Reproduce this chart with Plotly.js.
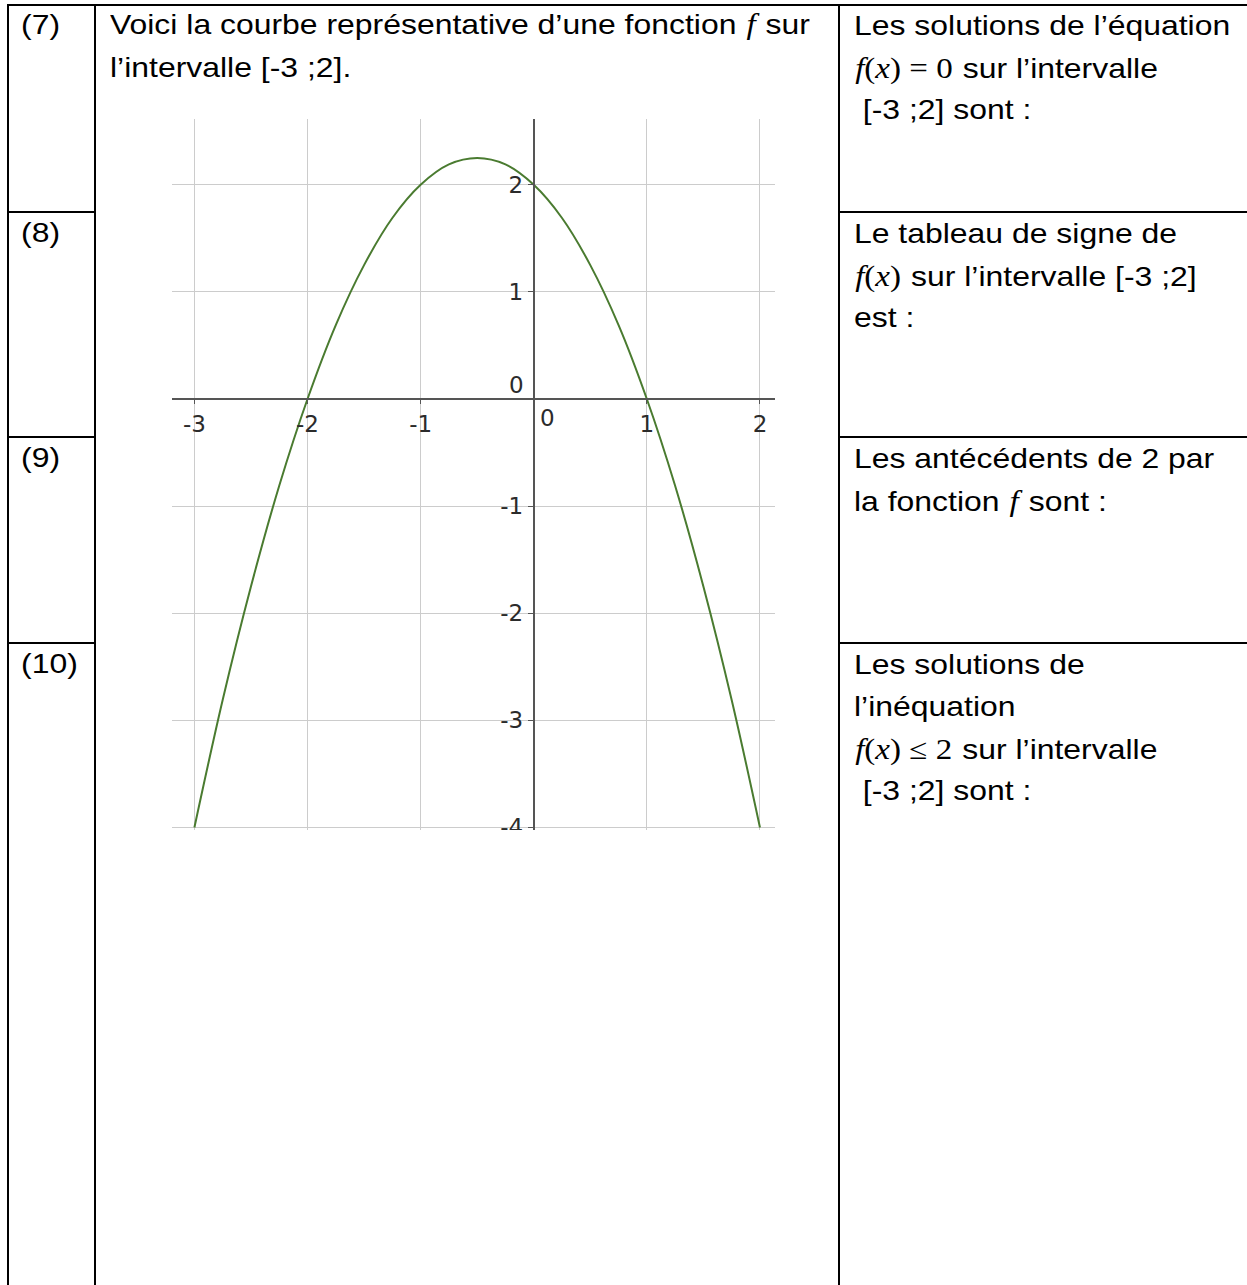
<!DOCTYPE html>
<html>
<head>
<meta charset="utf-8">
<script src="https://cdn.plot.ly/plotly-3.0.1.min.js"></script>
<style>
  body { margin: 0; background: #fff; width: 1247px; height: 1285px; overflow: hidden; position: relative; }
  .ln { position: absolute; background: #000; }
  .txt { position: absolute; font-family: "Liberation Sans", Arial, sans-serif; font-size: 28px;
         line-height: 42px; white-space: nowrap; color: #000; transform: scaleX(1.14); transform-origin: 0 0; }
  .txt div { height: 42px; white-space: pre; }
  .mid div { height: 44px; line-height: 44px; }
  .m { font-family: "Liberation Serif", "Times New Roman", serif; font-size: 29px; padding: 0 1px; }
  .m i { font-style: italic; }
  #clip { position: absolute; left: 150px; top: 100px; width: 650px; height: 730px; overflow: hidden; }
  #chart { width: 650px; height: 760px; }
</style>
</head>
<body>

<!-- table lines -->
<div class="ln" style="left:7px; top:4px; width:1240px; height:2px;"></div>
<div class="ln" style="left:7px; top:4px; width:2px; height:1281px;"></div>
<div class="ln" style="left:94px; top:4px; width:2px; height:1281px;"></div>
<div class="ln" style="left:838px; top:4px; width:2px; height:1281px;"></div>
<div class="ln" style="left:7px; top:211px; width:89px; height:2px;"></div>
<div class="ln" style="left:838px; top:211px; width:409px; height:2px;"></div>
<div class="ln" style="left:7px; top:436px; width:89px; height:2px;"></div>
<div class="ln" style="left:838px; top:436px; width:409px; height:2px;"></div>
<div class="ln" style="left:7px; top:642px; width:89px; height:2px;"></div>
<div class="ln" style="left:838px; top:642px; width:409px; height:2px;"></div>

<!-- row numbers -->
<div class="txt" style="left:21px; top:4px;">(7)</div>
<div class="txt" style="left:21px; top:212px;">(8)</div>
<div class="txt" style="left:21px; top:437px;">(9)</div>
<div class="txt" style="left:21px; top:643px;">(10)</div>

<!-- middle cell -->
<div class="txt mid" style="left:110px; top:2px;">
<div>Voici la courbe représentative d’une fonction <span class="m"><i>f</i></span> sur</div>
<div>l’intervalle [-3 ;2].</div>
</div>

<!-- right column -->
<div class="txt" style="left:854px; top:5px;">
<div>Les solutions de l’équation</div>
<div><span class="m"><i>f</i>(<i>x</i>) = 0</span> sur l’intervalle</div>
<div> [-3 ;2] sont :</div>
</div>
<div class="txt" style="left:854px; top:213px;">
<div>Le tableau de signe de</div>
<div><span class="m"><i>f</i>(<i>x</i>)</span> sur l’intervalle [-3 ;2]</div>
<div>est :</div>
</div>
<div class="txt" style="left:854px; top:438px;">
<div>Les antécédents de 2 par</div>
<div>la fonction <span class="m"><i>f</i></span> sont :</div>
</div>
<div class="txt" style="left:854px; top:644px;">
<div>Les solutions de</div>
<div>l’inéquation</div>
<div><span class="m"><i>f</i>(<i>x</i>) ≤ 2</span> sur l’intervalle</div>
<div> [-3 ;2] sont :</div>
</div>

<div id="clip"><div id="chart"></div></div>

<script>
// points
var xs = [-3, -2.75, -2.5, -2.25, -2, -1.75, -1.5, -1.25, -1, -0.75, -0.5, -0.25, 0, 0.25, 0.5, 0.75, 1, 1.25, 1.5, 1.75, 2];
var ys = [-4, -2.81, -1.75, -0.81, 0, 0.69, 1.25, 1.69, 2, 2.19, 2.25, 2.19, 2, 1.69, 1.25, 0.69, 0, -0.81, -1.75, -2.81, -4];

var xTicks = [-3, -2, -1, 1, 2];
var xTickText = ["-3", "-2", "-1", "1", "2"];
var yTicks = [-4, -3, -2, -1, 1, 2];
var yTickText = ["-4", "-3", "-2", "-1", "1", "2"];

var xRange = [-3.198, 2.133];
var yRange = [-4.024, 2.614];

var tickFont = {family: "DejaVu Sans", size: 23, color: "#2b2b2b"};

var trace = {
  x: xs, y: ys,
  mode: "lines",
  line: {color: "#4a7b30", width: 2, shape: "spline", smoothing: 1},
  hoverinfo: "skip"
};

var layout = {
  width: 650, height: 760,
  margin: {l: 22, r: 25, t: 19, b: 30},
  paper_bgcolor: "rgba(0,0,0,0)",
  plot_bgcolor: "rgba(0,0,0,0)",
  showlegend: false,
  xaxis: {
    range: xRange,
    tickvals: xTicks, ticktext: xTickText,
    showgrid: true, gridcolor: "#cccccc", gridwidth: 1,
    zeroline: false,
    showline: true, linecolor: "#555", linewidth: 2,
    anchor: "free",
    position: (0 - yRange[0]) / (yRange[1] - yRange[0]),
    ticks: "outside", ticklen: 4, tickcolor: "#555",
    tickfont: tickFont
  },
  yaxis: {
    range: yRange,
    tickvals: yTicks, ticktext: yTickText,
    showgrid: true, gridcolor: "#cccccc", gridwidth: 1,
    zeroline: false,
    showline: true, linecolor: "#555", linewidth: 2,
    anchor: "free",
    position: (0 - xRange[0]) / (xRange[1] - xRange[0]),
    ticks: "outside", ticklen: 5, tickcolor: "#555",
    tickfont: tickFont
  },
  annotations: [
    {x: 0, y: 0, xref: "x", yref: "y", text: "0", showarrow: false,
     xanchor: "left", yanchor: "top", xshift: 4, yshift: -4, font: tickFont},
    {x: 0, y: 0, xref: "x", yref: "y", text: "0", showarrow: false,
     xanchor: "right", yanchor: "bottom", xshift: -8, yshift: -1, font: tickFont}
  ]
};

Plotly.newPlot("chart", [trace], layout, {staticPlot: true, displayModeBar: false});
</script>
</body>
</html>
